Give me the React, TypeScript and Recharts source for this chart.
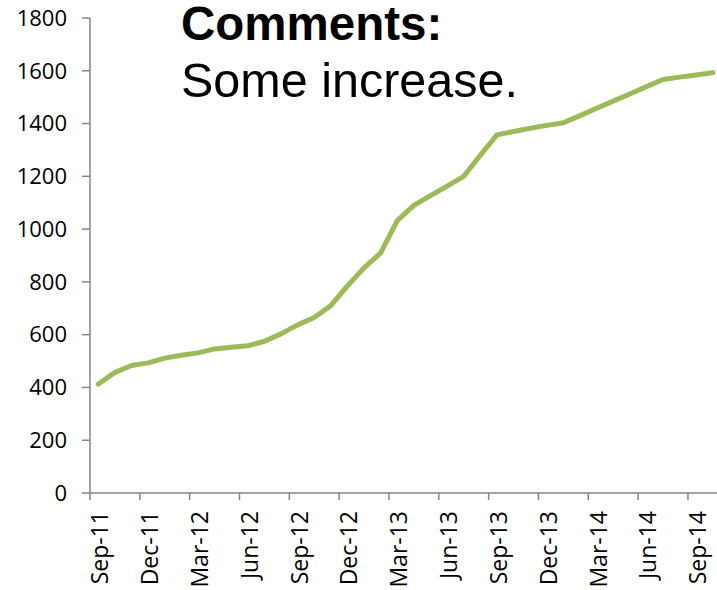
import React from 'react';
import { LineChart, Line, XAxis, YAxis } from 'recharts';

// Monthly readings, Sep-11 .. Oct-14
const months = [
    'Sep-11', 'Oct-11', 'Nov-11', 'Dec-11', 'Jan-12', 'Feb-12', 'Mar-12', 'Apr-12',
    'May-12', 'Jun-12', 'Jul-12', 'Aug-12', 'Sep-12', 'Oct-12', 'Nov-12', 'Dec-12',
    'Jan-13', 'Feb-13', 'Mar-13', 'Apr-13', 'May-13', 'Jun-13', 'Jul-13', 'Aug-13',
    'Sep-13', 'Oct-13', 'Nov-13', 'Dec-13', 'Jan-14', 'Feb-14', 'Mar-14', 'Apr-14',
    'May-14', 'Jun-14', 'Jul-14', 'Aug-14', 'Sep-14', 'Oct-14',
];

const values = [
    413, 457, 483, 493, 511, 522, 531, 546,
    552, 558, 575, 603, 637, 665, 710, 785,
    853, 910, 1032, 1090, 1127, 1163, 1200, 1280,
    1357, 1370, 1382, 1393, 1403, 1430, 1458, 1485,
    1512, 1540, 1567, 1576, 1584, 1593,
];

const yTicks = [0, 200, 400, 600, 800, 1000, 1200, 1400, 1600, 1800];

// tick marks sit on quarter boundaries, labels in the middle of the month
const boundaryTicks = [0, 3, 6, 9, 12, 15, 18, 21, 24, 27, 30, 33, 36];
const labelTicks = boundaryTicks.map(t => t + 0.5);
const xTicks = [...boundaryTicks, ...labelTicks].sort((a, b) => a - b);

const commentTitle = 'Comments:';
const commentText = 'Some increase.';

const data = months.map((m, i) => ({ pos: i + 0.5, month: m, value: values[i] }));

const AXIS_GRAY = '#868686';
const LINE_GREEN = '#9BBB59';
const FONT = '"Open Sans", "DejaVu Sans", sans-serif';

// integer ticks -> tick mark only, half ticks -> rotated month label
const MonthTick = ({ x, y, payload }: any) => {
    const v = payload.value;
    if (Number.isInteger(v)) {
        return <line x1={x} y1={y} x2={x} y2={y + 7} stroke={AXIS_GRAY} strokeWidth={1.5} />;
    }
    const tx = x + 1;
    const ty = y + 18;
    return (
        <text
            x={tx}
            y={ty}
            transform={`rotate(-90, ${tx}, ${ty})`}
            textAnchor="end"
            dominantBaseline="central"
            fontFamily={FONT}
            fontSize={23}
            fill="#000"
        >
            {months[Math.floor(v)]}
        </text>
    );
};

export default function App() {
    return (
        <div style={{ position: 'absolute', left: 0, top: 0, width: 717, height: 590, background: '#fff' }}>
            <LineChart width={717} height={590} data={data} margin={{ top: 18, right: 0, left: 0, bottom: 0 }}>
                <XAxis
                    type="number"
                    dataKey="pos"
                    domain={[0, 37.75]}
                    ticks={xTicks}
                    tick={<MonthTick />}
                    interval={0}
                    tickSize={0}
                    tickMargin={0}
                    height={97}
                    axisLine={{ stroke: AXIS_GRAY, strokeWidth: 1.5 }}
                    tickLine={false}
                />
                <YAxis
                    type="number"
                    domain={[0, 1800]}
                    ticks={yTicks}
                    width={90}
                    tickSize={8}
                    tickMargin={15}
                    interval={0}
                    axisLine={{ stroke: AXIS_GRAY, strokeWidth: 1.5 }}
                    tickLine={{ stroke: AXIS_GRAY, strokeWidth: 1.5 }}
                    tick={{ fontFamily: FONT, fontSize: 22, fill: '#000' }}
                />
                <Line
                    type="linear"
                    dataKey="value"
                    stroke={LINE_GREEN}
                    strokeWidth={5}
                    strokeLinecap="round"
                    strokeLinejoin="round"
                    dot={false}
                    activeDot={false}
                    isAnimationActive={false}
                />
            </LineChart>
            <svg
                width={717}
                height={120}
                style={{ position: 'absolute', left: 0, top: 0, pointerEvents: 'none' }}
            >
                <g fontFamily='"Liberation Sans", Arial, sans-serif' fill="#000">
                    <text x={181} y={40} fontSize={47.5} fontWeight="bold">{commentTitle}</text>
                    <text x={181} y={97} fontSize={48.5}>{commentText}</text>
                </g>
            </svg>
        </div>
    );
}
